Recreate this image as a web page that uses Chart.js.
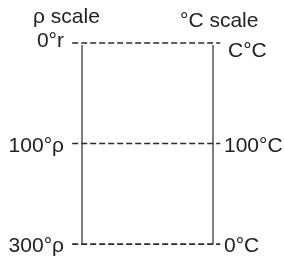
<!DOCTYPE html>
<html>
<head>
<meta charset="utf-8">
<script src="https://cdn.jsdelivr.net/npm/chart.js@4"></script>
<style>
  html, body { margin: 0; padding: 0; background: #fff; }
  canvas { display: block; }
</style>
</head>
<body>
<canvas id="scaleChart" width="284" height="258"></canvas>
<script>
// Two temperature scales compared side by side
const scaleNames = ['ρ scale', '°C scale'];
const scalePositions = [0, 1];          // left = ρ scale, right = °C scale
const rowLevels = [0, 1, 2];            // top -> bottom marks
const rhoLabels = ['0°r', '100°ρ', '300°ρ'];
const celsiusLabels = ['C°C', '100°C', '0°C'];

const INK = '#2a2a2a';
const FONT = '21px "Liberation Sans", Arial, sans-serif';

// dashed guide lines reach a little past each scale
const dashFrom = -0.075;
const dashTo = 1.055;

const datasets = [];
rowLevels.forEach(level => {
  datasets.push({
    data: [{ x: dashFrom, y: level }, { x: dashTo, y: level }],
    borderColor: INK,
    borderWidth: 1.7,
    borderDash: [6, 3],
    showLine: true,
    pointRadius: 0
  });
});
scalePositions.forEach(pos => {
  datasets.push({
    data: [{ x: pos, y: rowLevels[0] + 0.02 }, { x: pos, y: rowLevels[rowLevels.length - 1] }],
    borderColor: '#555555',
    borderWidth: 1.5,
    showLine: true,
    pointRadius: 0
  });
});

// labels are drawn next to each scale using the chart's own scales
const scaleLabels = {
  id: 'scaleLabels',
  afterDatasetsDraw(chart) {
    const { ctx, scales } = chart;
    const xLeft = scales.x.getPixelForValue(scalePositions[0]);
    const xRight = scales.x.getPixelForValue(scalePositions[1]);
    ctx.save();
    ctx.font = FONT;
    ctx.fillStyle = '#222222';
    ctx.textBaseline = 'alphabetic';

    // scale titles
    ctx.textAlign = 'left';
    ctx.fillText(scaleNames[0], xLeft - 49, 23);
    ctx.fillText(scaleNames[1], xRight - 33, 27);

    const leftNudge = [-4, 0, 0];
    const rightNudge = [6, 0, 0];
    rowLevels.forEach((level, i) => {
      const y = scales.y.getPixelForValue(level);
      ctx.textAlign = 'right';
      ctx.fillText(rhoLabels[i], xLeft - 18, y + 8 + leftNudge[i]);
      ctx.textAlign = 'left';
      ctx.fillText(celsiusLabels[i], xRight + (i === 0 ? 15 : 11), y + 8 + rightNudge[i]);
    });
    ctx.restore();
  }
};

new Chart(document.getElementById('scaleChart'), {
  type: 'scatter',
  data: { datasets: datasets },
  options: {
    responsive: false,
    animation: false,
    layout: { padding: 0 },
    plugins: {
      legend: { display: false },
      tooltip: { enabled: false }
    },
    scales: {
      x: { type: 'linear', display: false, min: -0.626, max: 1.542 },
      y: { type: 'linear', display: false, reverse: true, min: -0.428, max: 2.139 }
    }
  },
  plugins: [scaleLabels]
});
</script>
</body>
</html>
